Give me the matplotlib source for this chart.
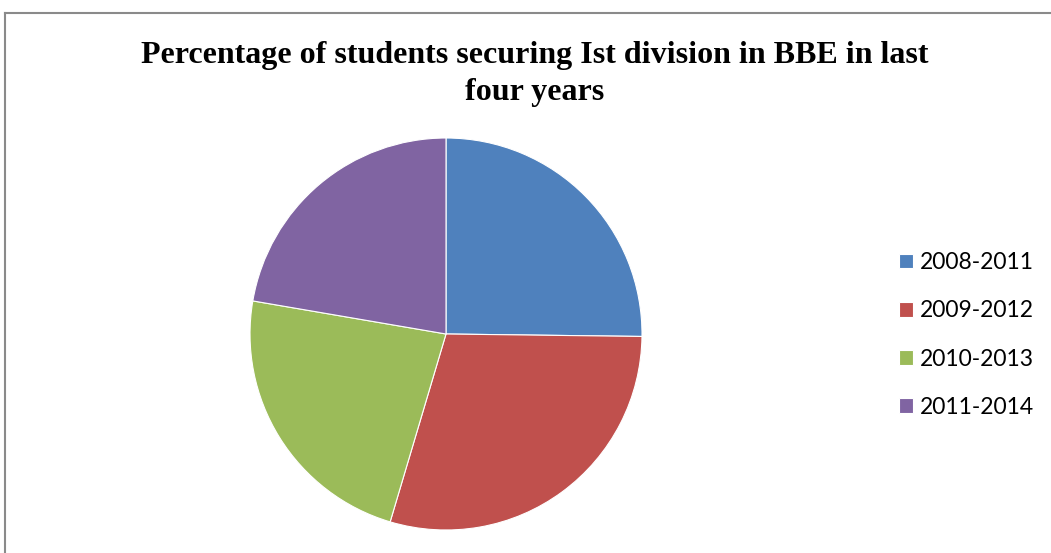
import matplotlib
matplotlib.use("Agg")
import matplotlib.pyplot as plt
from matplotlib.lines import Line2D

categories = ["2008-2011", "2009-2012", "2010-2013", "2011-2014"]
values = [25.2, 29.4, 23.1, 22.3]
colors = ["#4F81BD", "#C0504D", "#9BBB59", "#8064A2"]
title = "Percentage of students securing Ist division in BBE in last\nfour years"

W, H = 1051, 553
fig = plt.figure(figsize=(W / 100, H / 100), dpi=100)

# pie axes: center (446, 334) px from top, radius 196
cx, cy, r = 446, 334, 196
ax = fig.add_axes([(cx - r) / W, (H - cy - r) / H, 2 * r / W, 2 * r / H])
wedges, _ = ax.pie(values, colors=colors, startangle=90, counterclock=False,
                   radius=1, wedgeprops=dict(edgecolor="white", linewidth=0.8))
ax.set_xlim(-1, 1)
ax.set_ylim(-1, 1)
ax.set_aspect("equal")
ax.axis("off")

# outer border (chart area)
bx, by = 4.5, 12.5
fig.add_artist(Line2D([bx / W, bx / W], [0, 1 - by / H], transform=fig.transFigure,
                      color="#8a8a8a", linewidth=1.5))
fig.add_artist(Line2D([bx / W, 1], [1 - by / H, 1 - by / H], transform=fig.transFigure,
                      color="#8a8a8a", linewidth=1.5))

fig.text(535 / W, 1 - 74 / H, title, ha="center", va="center",
         fontfamily="Liberation Serif", fontweight="bold", fontsize=23,
         linespacing=1.38)

leg = fig.legend(wedges, categories, loc="center left",
                 bbox_to_anchor=(899 / W, 1 - 335 / H), frameon=False,
                 prop=dict(family="Lato", size=16.5), handlelength=0.62,
                 handleheight=0.62, handletextpad=0.3, labelspacing=1.19,
                 borderpad=0, borderaxespad=0)

fig.savefig("out.png", dpi=100)
